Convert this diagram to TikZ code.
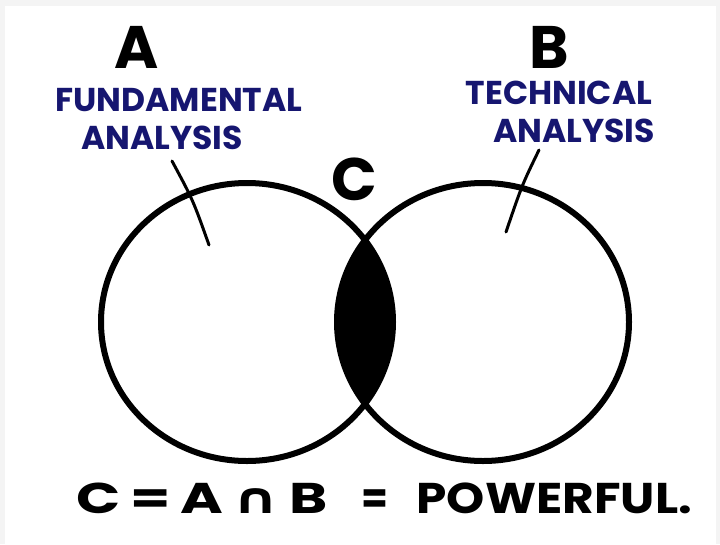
\documentclass[tikz,border=0pt]{standalone}
\usepackage{fontspec}
\usepackage{graphicx}
\setmainfont{Poppins}
\newfontfamily\symfont{DejaVu Sans}
\usetikzlibrary{calc,positioning}
\definecolor{fg}{RGB}{0,0,0}
\definecolor{ink}{RGB}{22,22,112}
\definecolor{frame}{RGB}{244,244,244}
\definecolor{bg}{RGB}{255,255,255}
\tikzset{
  every picture/.style={fg, line cap=round, line join=round},
  % Kreise
  blob/.style={line width=6pt},
  % Beschriftung
  big/.style={font=\fontsize{60}{60}\selectfont\bfseries, inner sep=0pt},
  note/.style={ink, font=\fontsize{33}{38}\selectfont\bfseries, align=center, inner sep=0pt},
  formula/.style={font=\fontsize{43}{43}\selectfont\bfseries, inner sep=0pt},
  pointer/.style={line width=3pt},
}
\def\blobA{(247,322) ellipse [x radius=146, y radius=139]}
\def\blobB{(483,322) ellipse [x radius=146, y radius=139]}
\begin{document}
\begin{tikzpicture}[x=1pt, y=-1pt]
  % Rahmen
  \fill[frame] (0,0) rectangle (720,544);
  \fill[bg] (5,6) rectangle (716,544);
  \useasboundingbox (0,0) rectangle (720,544);
  % Schnittmenge
  \begin{scope}
    \clip \blobA;
    \fill[fg] \blobB;
  \end{scope}
  \draw[blob] \blobA;
  \draw[blob] \blobB;
  % Mengen
  \node[big] (setA) at (137,47) {A};
  \node[big] (setB) at (549,47) {B};
  \node[big] (setC) at (354,179) {C};
  \node[note] (fund) at (179,119) {FUNDAMENTAL\\ANALYSIS\hspace*{34pt}};
  \node[note] (tech) at (559,112) {TECHNICAL\\\hspace*{30pt}ANALYSIS};
  % Zeiger
  \coordinate (fA) at (172,161);
  \coordinate (inA) at (209,245);
  \coordinate (fB) at (539,150);
  \coordinate (inB) at (506,232);
  \draw[pointer] (fA) .. controls (193,200) .. (inA);
  \draw[pointer] (fB) .. controls (522,185) .. (inB);
  % Ergebnis
  \node[formula, anchor=south west] (res) at (76,514)
    {\scalebox{1.35}[1]{C\,=\,A\,{\symfont ∩}\,B}\hspace{34pt}\scalebox{0.9}[1]{=}\hspace{28pt}\scalebox{1.13}[1]{POWERFUL.}};
\end{tikzpicture}
\end{document}
